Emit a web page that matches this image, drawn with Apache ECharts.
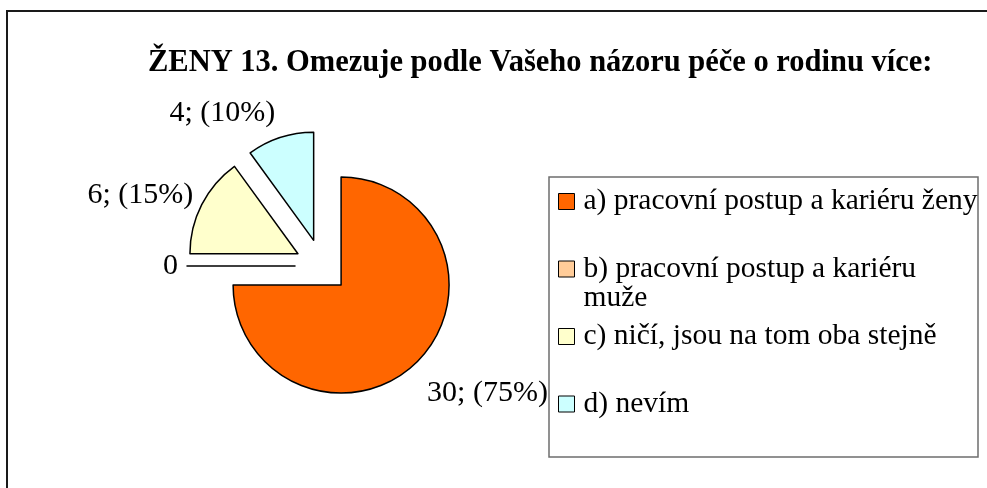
<!DOCTYPE html>
<html><head><meta charset="utf-8">
<script src="https://cdn.jsdelivr.net/npm/echarts@6/dist/echarts.min.js"></script>
<style>html,body{margin:0;padding:0;background:#fff}#c{width:987px;height:488px}</style>
</head><body><div id="c"></div>
<script>
const titleText = 'ŽENY 13. Omezuje podle Vašeho názoru péče o rodinu více:';
const categories = ['a) pracovní postup a kariéru ženy', 'b) pracovní postup a kariéru muže', 'c) ničí, jsou na tom oba stejně', 'd) nevím'];
const legendLines = ['a) pracovní postup a kariéru ženy', 'b) pracovní postup a kariéru\nmuže', 'c) ničí, jsou na tom oba stejně', 'd) nevím'];
const values = [30, 0, 6, 4];
const colors = ['#FF6600', '#FFCC99', '#FFFFCC', '#CCFFFF'];
// label placement tweaks (style only)
const labelLineLen = [44.7, 4, 21.5, 26];
const labelDist = [-22, 5, -10.7, -3];

const FONT = '"Liberation Serif", "Times New Roman", serif';
const chart = echarts.init(document.getElementById('c'), null, {renderer: 'canvas'});

const data = categories.map((name, i) => ({
  name: name,
  value: values[i],
  selected: true,
  itemStyle: {color: colors[i]},
  label: {distanceToLabelLine: labelDist[i]},
  labelLine: {show: false, length: labelLineLen[i], length2: 0}
}));

chart.setOption({
  animation: false,
  backgroundColor: '#fff',
  title: {
    text: titleText,
    left: 148, top: 48, padding: 0,
    textStyle: {fontFamily: FONT, fontWeight: 'bold', fontSize: 30.5, color: '#000'}
  },
  legend: {
    orient: 'vertical',
    left: 558, top: 157.5, padding: 0,
    itemGap: -20.5,
    itemWidth: 16, itemHeight: 16,
    selectedMode: false,
    icon: 'rect',
    itemStyle: {borderColor: '#000', borderWidth: 1},
    data: categories,
    formatter: function (name) {
      const i = categories.indexOf(name);
      const parts = legendLines[i].split('\n');
      return '\n' + parts[0] + '\n' + (parts[1] || '');
    },
    textStyle: {fontFamily: FONT, fontSize: 29.5, color: '#000', lineHeight: 29, padding: [0, 0, 0, 4]}
  },
  graphic: [
    {type: 'rect', shape: {x: 7, y: 11, width: 1200, height: 1000}, style: {fill: 'none', stroke: '#1a1a1a', lineWidth: 2}, silent: true},
    {type: 'rect', shape: {x: 549, y: 177, width: 429, height: 280}, style: {fill: 'none', stroke: '#6e6e6e', lineWidth: 1.5}, silent: true}
  ],
  series: [{
    type: 'pie',
    center: [322, 266],
    radius: 108,
    startAngle: 90,
    clockwise: true,
    selectedMode: 'multiple',
    selectedOffset: 27,
    avoidLabelOverlap: false,
    percentPrecision: 0,
    emphasis: {disabled: true, scale: false},
    itemStyle: {borderColor: '#000', borderWidth: 1.5},
    label: {
      show: true,
      position: 'outside',
      fontFamily: FONT, fontSize: 30, color: '#000',
      formatter: function (p) { return p.value === 0 ? '0' : p.value + '; (' + p.percent + '%)'; }
    },
    data: data
  }]
});
</script></body></html>
